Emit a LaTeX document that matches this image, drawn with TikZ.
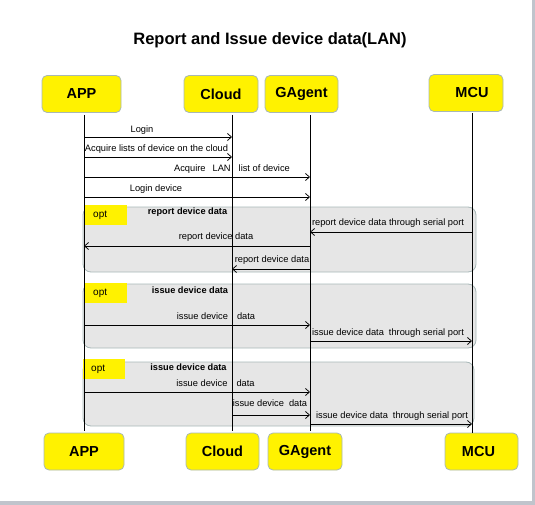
\documentclass[tikz,border=0pt]{standalone}
\usepackage{fontspec}
\setmainfont{Liberation Sans}
\usetikzlibrary{arrows.meta}
\definecolor{boxline}{HTML}{A8B8B4}
\definecolor{optfill}{HTML}{E6E6E6}
\definecolor{optline}{HTML}{A8B8B8}
\definecolor{edgegrey}{HTML}{C0C4CC}
\tikzset{
	actor/.style={draw=boxline, fill=yellow, rounded corners=5pt, line width=0.8pt, minimum height=37pt, inner sep=0pt, font=\fontsize{14.5}{16}\selectfont\bfseries},
	optframe/.style={draw=optline, fill=optfill, rounded corners=8pt, line width=0.8pt},
	optbox/.style={fill=yellow, inner sep=0pt, anchor=north west, minimum width=42pt, minimum height=20pt, text width=26pt, align=left, font=\fontsize{10}{12}\selectfont},
	msg/.style={->, line width=0.75pt},
	life/.style={line width=0.85pt},
	lbl/.style={inner sep=0pt, text height=6.5pt, text depth=1.8pt, font=\fontsize{9.3}{10}\selectfont},
	head/.style={lbl, font=\fontsize{9.2}{10}\selectfont\bfseries},
}

\begin{document}
\begin{tikzpicture}[x=1pt, y=-1pt, >={Straight Barb[length=4pt,width=7pt]}]
	\useasboundingbox (0,0) rectangle (535,505);
	\fill[edgegrey] (532,0) rectangle (535,505);
	\fill[edgegrey] (0,501) rectangle (535,505);
	\node[font=\fontsize{16.5}{18}\selectfont\bfseries] (title) at (270,40) {Report and Issue device data(LAN)};

	% opt frames
	\draw[optframe] (83,207) rectangle (476,272);
	\draw[optframe] (83,284) rectangle (476,348);
	\draw[optframe] (83,362) rectangle (474,426);
	\node[optbox] (opt1) at (85,205) {opt};
	\node[optbox] (opt2) at (85,283) {opt};
	\node[optbox] (opt3) at (83,359) {opt};
	\node[head] (h1) at (187.5,212) {report device data};
	\node[head] (h2) at (190,291) {issue device data};
	\node[head] (h3) at (188.5,368) {issue device data};

	% boxes
	\node[actor, minimum width=79pt] (app) at (81.5,94) {APP};
	\node[actor, minimum width=74pt] (cloud) at (221,94) {Cloud};
	\node[actor, minimum width=73pt] (ga) at (301.5,94) {GAgent};
	\node[actor, minimum width=74pt] (mcu) at (466,93) {\hspace*{12pt}MCU};
	\node[actor, minimum width=80pt] (app2) at (84,451.5) {APP};
	\node[actor, minimum width=73pt] (cloud2) at (222.5,451.5) {Cloud};
	\node[actor, minimum width=74pt] (ga2) at (305,451.5) {GAgent};
	\node[actor, minimum width=73pt] (mcu2) at (481.5,451.5) {MCU\hspace*{6pt}};

	% lifelines
	\coordinate (appT) at (84,115);
	\coordinate (appB) at (84,431);
	\coordinate (cloudT) at (232,115);
	\coordinate (cloudB) at (232,431);
	\coordinate (gaT) at (310,115);
	\coordinate (gaB) at (310,431);
	\coordinate (mcuT) at (472,113);
	\coordinate (mcuB) at (472,433);
	\draw[life] (appT) -- (appB);
	\draw[life] (cloudT) -- (cloudB);
	\draw[life] (gaT) -- (gaB);
	\draw[life] (mcuT) -- (mcuB);

	% messages
	\coordinate (m1) at (0,137);
	\coordinate (m2) at (0,157);
	\coordinate (m3) at (0,177);
	\coordinate (m4) at (0,197);
	\coordinate (m5) at (0,232);
	\coordinate (m6) at (0,246);
	\coordinate (m7) at (0,269);
	\coordinate (m8) at (0,325);
	\coordinate (m9) at (0,341);
	\coordinate (m10) at (0,392);
	\coordinate (m11) at (0,415);
	\coordinate (m12) at (0,424);
	\draw[msg] (appT |- m1) -- (cloudT |- m1);
	\draw[msg] (appT |- m2) -- (cloudT |- m2);
	\draw[msg] (appT |- m3) -- (gaT |- m3);
	\draw[msg] (appT |- m4) -- (gaT |- m4);
	\draw[msg] (mcuT |- m5) -- (gaT |- m5);
	\draw[msg] (gaT |- m6) -- (appT |- m6);
	\draw[msg] (gaT |- m7) -- (cloudT |- m7);
	\draw[msg] (appT |- m8) -- (gaT |- m8);
	\draw[msg] (gaT |- m9) -- (mcuT |- m9);
	\draw[msg] (appT |- m10) -- (gaT |- m10);
	\draw[msg] (cloudT |- m11) -- (gaT |- m11);
	\draw[msg] (gaT |- m12) -- (mcuT |- m12);

	% labels
	\node[lbl] (l1) at (142,130) {Login};
	\node[lbl] (l2) at (156.5,149) {Acquire lists of device on the cloud};
	\node[lbl] (l3) at (232,169) {Acquire\hspace{7pt}LAN\hspace{8pt}list of device};
	\node[lbl] (l4) at (156,189) {Login device};
	\node[lbl] (l5) at (388,223) {report device data through serial port};
	\node[lbl] (l6) at (216,237) {report device data};
	\node[lbl] (l7) at (272,260) {report device data};
	\node[lbl] (l8) at (216,317) {issue device\hspace{9pt}data};
	\node[lbl] (l9) at (388,333) {issue device data\hspace{5pt}through serial port};
	\node[lbl] (l10) at (215.5,384) {issue device\hspace{9pt}data};
	\node[lbl] (l11) at (270,404) {issue device\hspace{5pt}data};
	\node[lbl] (l12) at (392,416) {issue device data\hspace{5pt}through serial port};
\end{tikzpicture}
\end{document}
